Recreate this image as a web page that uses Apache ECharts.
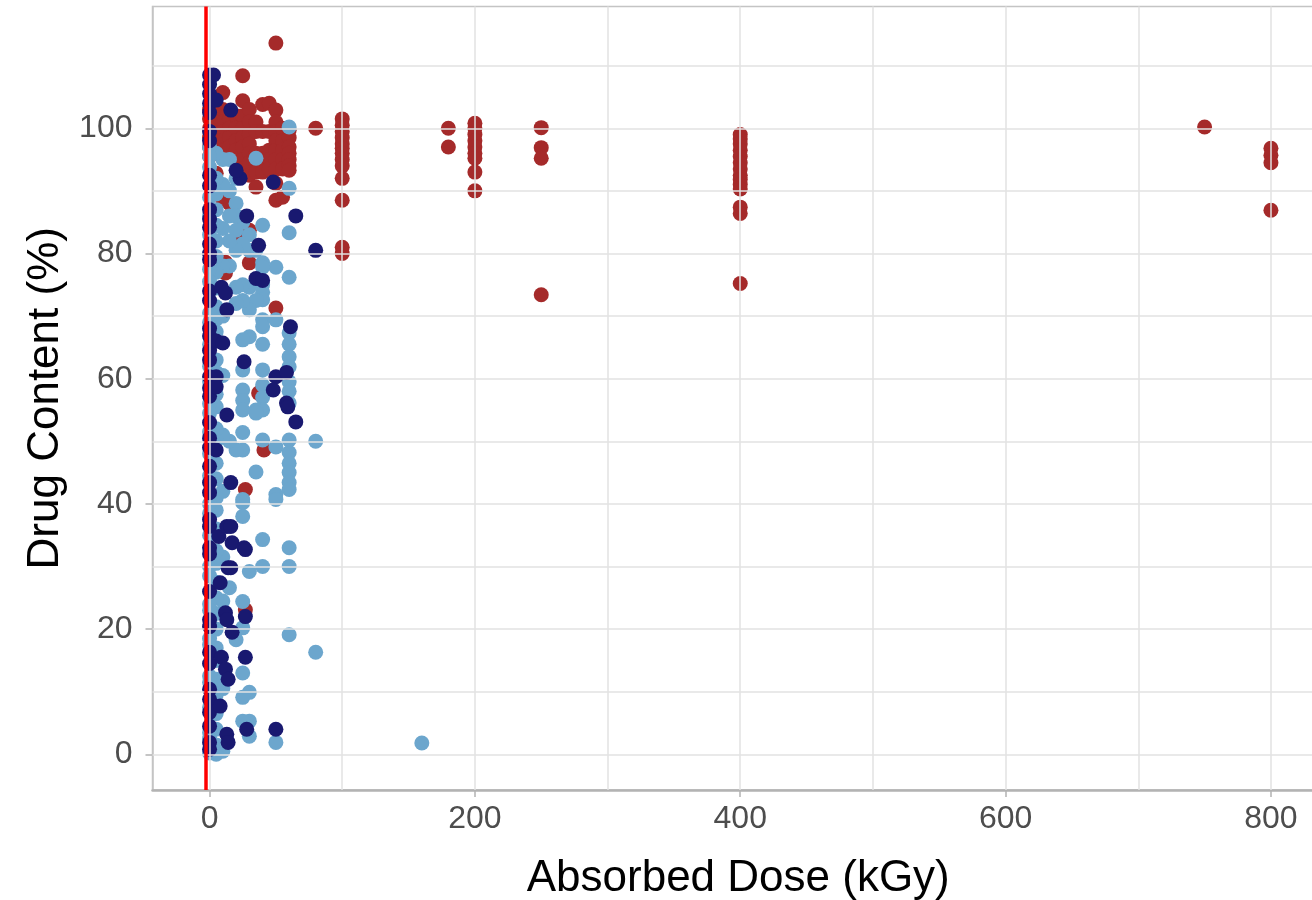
<!DOCTYPE html>
<html><head><meta charset="utf-8">
<script src="https://cdn.jsdelivr.net/npm/echarts@6/dist/echarts.min.js"></script>
<style>html,body{margin:0;padding:0;background:#fff}#c{width:1312px;height:900px}</style>
</head><body><div id="c"></div>
<script>
// ---- axis ticks ----
const xTicks = [0, 200, 400, 600, 800];
const xMinorTicks = [100, 300, 500, 700];
const yTicks = [0, 20, 40, 60, 80, 100];
const yMinorTicks = [10, 30, 50, 70, 90, 110];
const refLineX = -3;

// ---- data: [absorbed dose kGy, drug content %] ----
const redPoints = [
  [800,96.8],[800,95.7],[800,94.5],[800,86.9],[750,100.2],
  [400,99],[400,98.3],[400,97.5],[400,96.5],[400,95.5],[400,94.5],[400,93.5],[400,92.5],[400,91.8],[400,91],[400,90.3],[400,87.4],[400,86.4],[400,75.2],
  [250,100.1],[250,96.9],[250,95.2],[250,73.4],
  [200,100.8],[200,100],[200,99],[200,98],[200,97],[200,96],[200,95.2],[200,93],[200,90],
  [180,100],[180,97],
  [100,101.5],[100,100.5],[100,99.5],[100,98.5],[100,97.5],[100,96.8],[100,96],[100,95],[100,94],[100,92],[100,88.5],[100,81],[100,80],
  [80,100],[50,113.6],
  [0,103],[0,101.5],[0,100],[0,98.5],[0,97],[0,95.5],
  [5,102],[5,100.5],[5,99],[5,97.5],[5,96],[5,92.8],
  [10,105.7],[10,103],[10,101],[10,99.5],[10,98],[10,96.5],[10,88.5],
  [15,101.5],[15,100],[15,98.5],[15,97],[15,88],
  [20,102],[20,100],[20,98],[20,96.5],[20,95],
  [25,108.4],[25,104.4],[25,102],[25,100],[25,98.5],[25,97],[25,95],[25,93.5],[25,85.3],[25,82.6],
  [30,103],[30,101],[30,99],[30,97.5],[30,96],[30,94.5],[30,92.5],[30,83.7],[30,78.5],
  [35,101],[35,99.5],[35,96],[35,94.5],[35,93],[35,90.6],
  [40,103.8],[40,99.5],[40,96],[40,94.5],[40,93],
  [45,104],[45,99.5],[45,96.5],[45,95],[45,93.5],
  [50,102.9],[50,101],[50,99.5],[50,98],[50,96.5],[50,95],[50,93.5],[50,91.2],[50,88.5],[50,71.3],
  [55,100],[55,98],[55,96.5],[55,95],[55,93.5],[55,89],
  [60,99.7],[60,98.5],[60,97],[60,96],[60,95],[60,94],[60,93.3],
  [12,78.6],[12,76.9],[37,57.7],[41,48.6],[27,42.3],[27,23.1],[13,88.5]
];

const lightBluePoints = [
  [160,1.8],[80,50],[80,16.3],
  [60,100.2],[60,90.4],[60,83.3],[60,76.2],[60,67.3],[60,65.5],[60,63.5],[60,61.9],[60,59.5],[60,58],[60,56.1],[60,50.2],[60,48.2],[60,46.5],[60,45],[60,43.4],[60,42.3],[60,33],[60,30],[60,19.1],
  [50,77.8],[50,69.4],[50,49.1],[50,41.5],[50,40.7],[50,1.9],
  [40,84.5],[40,78.5],[40,77.8],[40,75],[40,73.8],[40,72.6],[40,69.4],[40,68.3],[40,65.5],[40,61.4],[40,59],[40,57],[40,55],[40,50.2],[40,34.3],[40,30],
  [35,95.2],[35,80.5],[35,72.5],[35,55],[35,54.5],[35,45.1],
  [30,83],[30,80.5],[30,74.6],[30,71],[30,66.7],[30,29.2],[30,9.9],[30,5.3],[30,2.9],
  [25,85],[25,81.5],[25,75],[25,72.5],[25,66.2],[25,61.4],[25,58.2],[25,56.5],[25,55],[25,51.4],[25,48.6],[25,40.7],[25,40.2],[25,38],[25,24.4],[25,20.2],[25,13],[25,9.1],[25,5.3],
  [20,92],[20,88],[20,86],[20,83.7],[20,80.5],[20,74.6],[20,72],[20,48.6],[20,18.3],
  [15,95],[15,90],[15,86],[15,82],[15,78],[15,50],[15,26.6],
  [10,95],[10,91],[10,84],[10,78],[10,70],[10,60.5],[10,51],[10,42],[10,31.5],[10,24.5],[10,10.5],[10,0.5],
  [5,96],[5,92],[5,89.5],[5,87],[5,84.5],[5,82],[5,79.5],[5,77],[5,74.5],[5,71.5],[5,69.5],[5,67.5],[5,63],[5,61],[5,57.5],[5,55.5],[5,52],[5,50],[5,46.5],[5,44],[5,41],[5,39],[5,36],[5,32.5],[5,30.5],[5,27.5],[5,25],[5,22.5],[5,20],[5,17],[5,15],[5,12],[5,9.5],[5,6.5],[5,4],[5,1.5],[5,0],
  [0,97],[0,95.5],[0,93.8],[0,89],[0,86],[0,83],[0,77.5],[0,75.5],[0,70.5],[0,69],[0,65.5],[0,62],[0,59.5],[0,56],[0,54.5],[0,51.5],[0,48],[0,44.5],[0,40],[0,38.5],[0,35],[0,30],[0,28.5],[0,24],[0,23],[0,18.5],[0,17.5],[0,12.5],[0,11.5],[0,7.5],[0,3.5],[0,2.5],[0,0.2]
];

const navyPoints = [
  [0,108.5],[0,107],[0,105.5],[0,104],[0,102.5],[0,99.5],[0,98],[0,92.5],[0,90.8],[0,87],[0,85.5],[0,84.2],[0,81.5],[0,80],[0,79],[0,74],[0,72.5],[0,68],[0,66.8],[0,64.5],[0,63],[0,60.3],[0,58.5],[0,57.2],[0,53],[0,50.5],[0,49],[0,46],[0,43.4],[0,41.8],[0,37.5],[0,36.4],[0,33],[0,32],[0,26],[0,21.5],[0,20.4],[0,16.3],[0,14.5],[0,10.4],[0,8.8],[0,6.7],[0,4.5],[0,1.9],[0,0.8],
  [3,108.5],[5,104.5],[16,102.9],[65,86],[80,80.5],[48,91.4],[28,86],[23,92],[20,93.3],
  [37,81.3],[35,76],[40,75.7],[9,74.6],[12,73.7],[13,71],[61,68.3],[5,66],[10,65.7],[26,62.7],[5,60.3],[5,58.7],[50,60.3],[58,61],[58,56.1],[48,58.2],
  [59,55.5],[65,53.1],[13,54.2],[5,48.6],[16,43.4],[7,34.8],[13,36.4],[17,33.8],[26,33],[14,29.8],
  [8,27.4],[12,22.6],[13,21.5],[17,19.5],[27,15.5],[9,15.5],[12,13.6],[14,12],[8,7.7],[13,3.2],[14,1.9],[28,4],[50,4],[27,22],[16,36.4],[27,32.7],[16,29.8]
];

const chart = echarts.init(document.getElementById('c'), null, {renderer: 'canvas'});
const FONT = 'Liberation Sans, Arial, sans-serif';
const gridLineStyle = {color: '#e2e2e2', width: 1.5, type: 'solid'};
const vLines = xTicks.concat(xMinorTicks).map(v => ({xAxis: v}));
const hLines = yTicks.concat(yMinorTicks).map(v => ({yAxis: v}));

chart.setOption({
  animation: false,
  backgroundColor: '#ffffff',
  grid: {left: 152.5, right: -12, top: 6.5, bottom: 110, show: true, borderColor: '#c4c4c4', borderWidth: 1.5,
         backgroundColor: 'transparent', containLabel: false, outerBoundsMode: 'none'},
  xAxis: {
    type: 'value', min: -43, max: 840, scale: true,
    name: 'Absorbed Dose (kGy)', nameLocation: 'middle', nameGap: 67,
    nameTextStyle: {fontFamily: FONT, fontSize: 44, color: '#000'},
    axisLine: {show: true, onZero: false, lineStyle: {color: '#b3b3b3', width: 2.5}},
    axisTick: {show: true, length: 7, customValues: xTicks, lineStyle: {color: '#b3b3b3', width: 1.5}},
    axisLabel: {customValues: xTicks, fontFamily: FONT, fontSize: 32, color: '#4d4d4d', margin: 13},
    splitLine: {show: false}
  },
  yAxis: {
    type: 'value', min: -5.7, max: 119.45, scale: true,
    name: 'Drug Content (%)', nameLocation: 'middle', nameGap: 84, nameRotate: 90,
    nameTextStyle: {fontFamily: FONT, fontSize: 44, color: '#000'},
    axisLine: {show: true, onZero: false, lineStyle: {color: '#c4c4c4', width: 1.5}},
    axisTick: {show: true, length: 7, customValues: yTicks, lineStyle: {color: '#b3b3b3', width: 1.5}},
    axisLabel: {customValues: yTicks, fontFamily: FONT, fontSize: 32, color: '#4d4d4d', margin: 20},
    splitLine: {show: false}
  },
  series: [
    {type: 'scatter', data: [], z: 1, silent: true,
     markLine: {silent: true, symbol: ['none', 'none'], label: {show: false}, lineStyle: gridLineStyle,
       emphasis: {disabled: true}, animation: false, data: vLines.concat(hLines)}},
    {name: 'red', type: 'scatter', data: redPoints, symbol: 'circle', symbolSize: 15, z: 2,
     itemStyle: {color: '#a52a2a', opacity: 1}},
    {name: 'lightblue', type: 'scatter', data: lightBluePoints, symbol: 'circle', symbolSize: 15, z: 3,
     itemStyle: {color: '#6ca6cd', opacity: 1}},
    {name: 'navy', type: 'scatter', data: navyPoints, symbol: 'circle', symbolSize: 15, z: 4,
     itemStyle: {color: '#191970', opacity: 1}},
    {type: 'scatter', data: [], z: 10, silent: true,
     markLine: {silent: true, symbol: ['none', 'none'], label: {show: false},
       lineStyle: {color: '#ff0000', width: 3.5, type: 'solid'}, emphasis: {disabled: true}, animation: false,
       data: [{xAxis: refLineX}]}}
  ]
});
</script></body></html>
